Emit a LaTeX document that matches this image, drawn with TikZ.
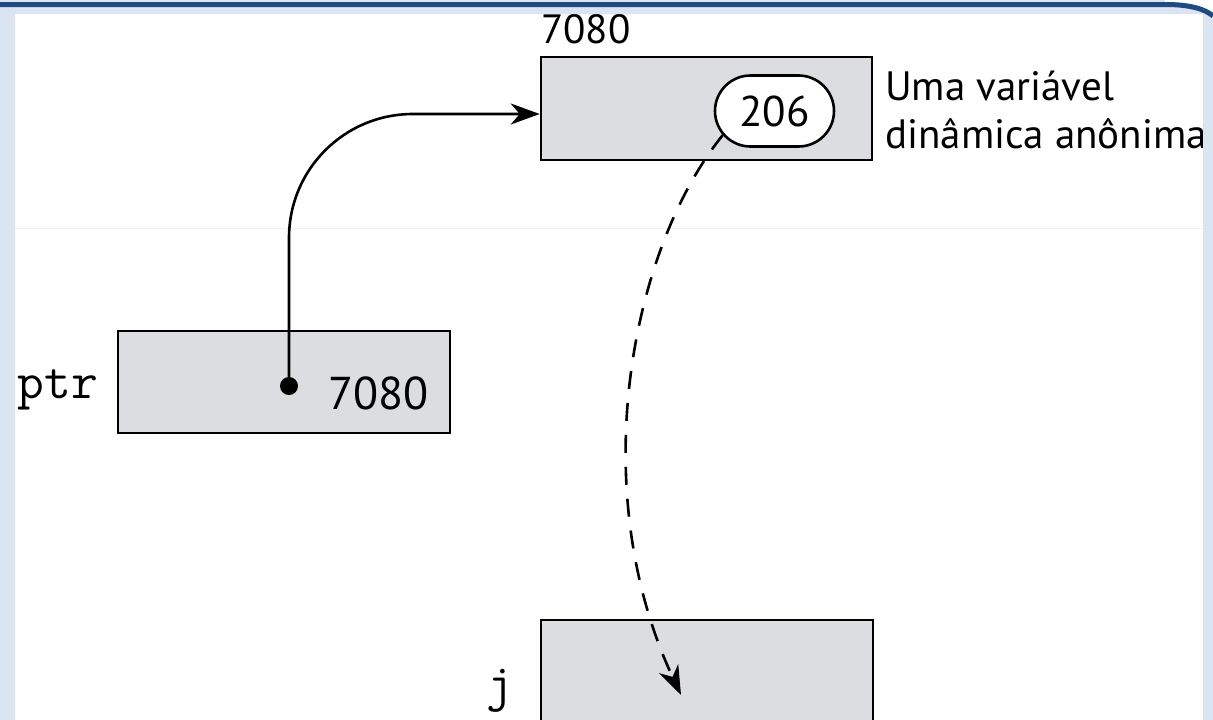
\documentclass[tikz,border=0pt]{standalone}
\usepackage{fontspec}
\setmainfont{PT Sans}
\usetikzlibrary{arrows.meta,shapes.misc,calc}

\definecolor{cellgray}{HTML}{DCDDE0}
\definecolor{framelight}{HTML}{DBE5F1}
\definecolor{framedark}{HTML}{1F4B82}
\definecolor{ruleline}{HTML}{EDF1F9}

\tikzset{
  membox/.style={draw=black, fill=cellgray, line width=2.6pt, inner sep=0pt},
  valoval/.style={draw=black, fill=white, line width=2.6pt, rounded rectangle,
    minimum width=119pt, minimum height=71pt, inner sep=0pt,
    font=\fontsize{43}{43}\selectfont},
  lbl/.style={inner sep=0pt, font=\fontsize{41}{47}\selectfont},
  varname/.style={inner sep=0pt, font=\ttfamily\fontsize{52}{52}\selectfont},
  conn/.style={line width=2.6pt, -{Stealth[length=29pt, width=21pt, inset=9pt]}},
  dashconn/.style={conn, dash pattern=on 18pt off 14pt},
}

\begin{document}
\begin{tikzpicture}[x=1pt, y=-1pt]
  \useasboundingbox (0,0) rectangle (1213,720);
  \fill[white] (0,0) rectangle (1213,720);
  \draw[ruleline, line width=1pt] (15,228) -- (1203,228);

  % memory cells
  \node[membox, minimum width=331pt, minimum height=103pt] (dyn) at (706.5,108.5) {};
  \node[membox, minimum width=332pt, minimum height=102pt] (ptr) at (284,382) {};
  \node[membox, minimum width=332pt, minimum height=140pt] (j) at (707,690) {};

  % labels
  \node[lbl, anchor=base west] (addr) at (541,43) {7080};
  \node[lbl, anchor=base west] (lab1) at (885,100) {Uma variável};
  \node[lbl, anchor=base west] (lab2) at (885,148) {dinâmica anônima};
  \node[varname, anchor=base east] (ptrname) at (98,398) {ptr};
  \node[varname, anchor=base] (jname) at (500,700) {j};

  % value held by the anonymous variable
  \node[valoval] (val) at (774.5,111) {206};

  % pointer value
  \node[circle, fill=black, inner sep=0pt, minimum size=18pt] (dot) at (289,386) {};
  \node[inner sep=0pt, font=\fontsize{46}{46}\selectfont, anchor=base west] (ptrval) at (328,409) {7080};

  % pointer arrow
  \coordinate (rise) at (289,238);
  \coordinate (bend) at (413,114);
  \draw[conn] (dot.center) -- (rise) to[out=90, in=180] (bend) -- (dyn.west |- bend);

  % dereference arrow
  \coordinate (jtip) at (681,695);
  \draw[dashconn] (val.205) .. controls (630,250) and (585,490) .. (jtip);

  % frame
  \fill[framelight, even odd rule] (0,0) rectangle (1213,720) (15,14) rectangle (1203,720);
  \fill[white] (1165,0) -- (1213,0) -- (1213,14) .. controls (1205,7) and (1190,2) .. (1165,2) -- cycle;
  \draw[framedark, line width=5pt] (0,4.5) -- (1165,4.5) .. controls (1190,4.5) and (1205,9) .. (1213,16);
\end{tikzpicture}
\end{document}
